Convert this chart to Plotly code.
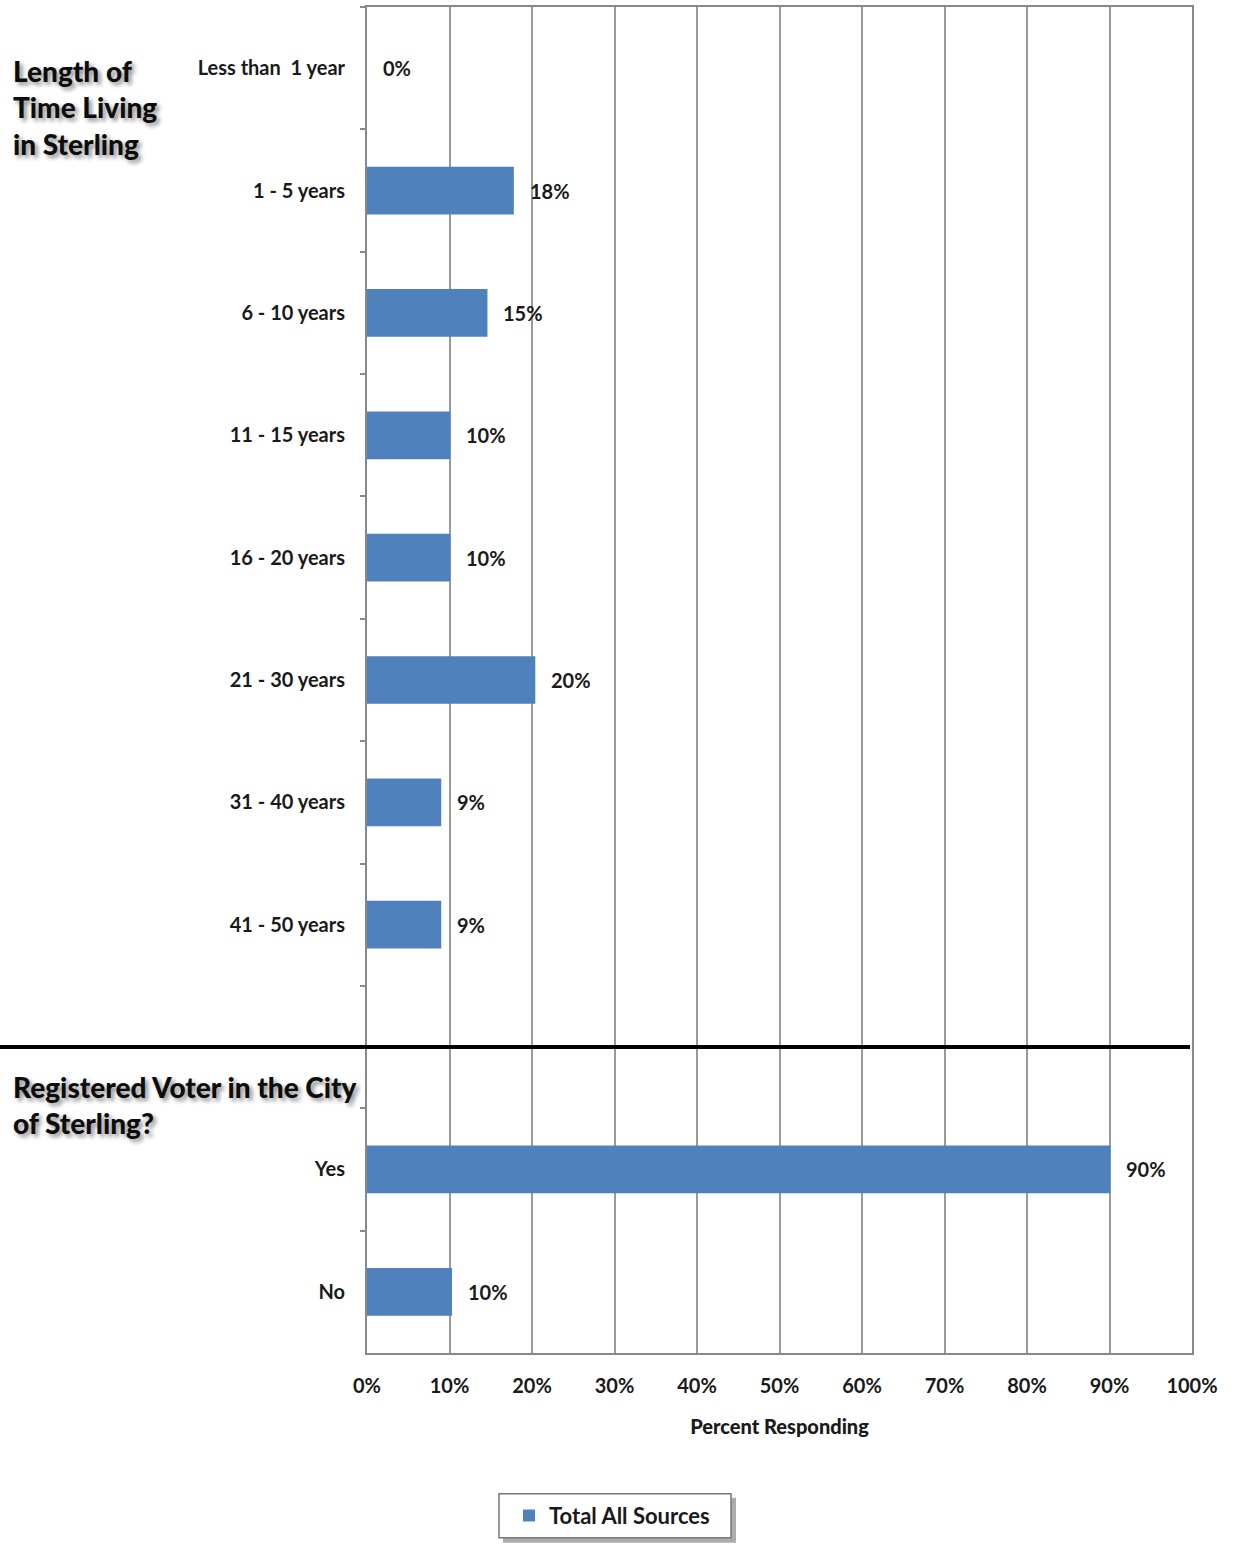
import plotly.graph_objects as go

categories = ["Less than  1 year", "1 - 5 years", "6 - 10 years", "11 - 15 years",
              "16 - 20 years", "21 - 30 years", "31 - 40 years", "41 - 50 years",
              " ", "Yes", "No"]
values = [0.0, 17.8, 14.6, 10.1, 10.1, 20.4, 9.0, 9.0, None, 90.1, 10.3]
value_labels = ["0%", "18%", "15%", "10%", "10%", "20%", "9%", "9%", "", "90%", "10%"]
x_ticks = [0, 10, 20, 30, 40, 50, 60, 70, 80, 90, 100]
x_tick_labels = [f"{t}%" for t in x_ticks]
series_name = "Total All Sources"
section_titles = ["Length of<br>Time Living<br>in Sterling", "Registered Voter in the City<br>of Sterling?"]

FONT = "Lato, 'Open Sans', sans-serif"
BLUE = "#4F81BD"

W, H = 1234, 1545
L, R, T, B = 367, 42, 5, 192
pw, ph = W - L - R, H - T - B

def px_x(p):
    return (p - L) / pw

def px_y(p):
    return 1 - (p - T) / ph

fig = go.Figure()
fig.add_trace(go.Bar(
    x=values, y=categories, orientation="h", name=series_name,
    marker=dict(color=BLUE, line=dict(width=0)), showlegend=True,
))

annotations = []
for c, v, lab in zip(categories, values, value_labels):
    if v is None:
        continue
    annotations.append(dict(x=v, y=c, xref="x", yref="y", text=lab, showarrow=False,
                            xanchor="left", xshift=14,
                            font=dict(family=FONT, size=20, color="#1a1a1a", weight="bold")))

title_font = dict(family=FONT, size=28, color="#0d0d0d", weight=900,
                  shadow="3px 3px 4px rgba(0,0,0,0.45)")
annotations.append(dict(x=px_x(11), y=px_y(50), xref="paper", yref="paper", text=section_titles[0],
                        showarrow=False, xanchor="left", yanchor="top", align="left",
                        font=title_font))
annotations.append(dict(x=px_x(11), y=px_y(1068), xref="paper", yref="paper", text=section_titles[1],
                        showarrow=False, xanchor="left", yanchor="top", align="left",
                        font=title_font))

shapes = [
    # separator between sections
    dict(type="line", xref="paper", yref="y", x0=px_x(0), x1=px_x(1190), y0=" ", y1=" ",
         line=dict(color="black", width=4)),
    # legend shadow
    dict(type="rect", xref="paper", yref="paper", x0=px_x(503), x1=px_x(736),
         y0=px_y(1543), y1=px_y(1498), fillcolor="rgba(90,90,90,0.5)", line=dict(width=0),
         layer="above"),
    # legend box
    dict(type="rect", xref="paper", yref="paper", x0=px_x(499), x1=px_x(731),
         y0=px_y(1538), y1=px_y(1494), fillcolor="white", line=dict(color="#777", width=1.5),
         layer="above"),
]

fig.update_layout(
    width=W, height=H,
    margin=dict(l=L, r=R, t=T, b=B, pad=0),
    paper_bgcolor="white", plot_bgcolor="white",
    font=dict(family=FONT, size=20, color="#1a1a1a"),
    bargap=0.61,
    xaxis=dict(range=[0, 100], tickvals=x_ticks, ticktext=x_tick_labels,
               showgrid=True, gridcolor="#9a9a9a", gridwidth=2,
               showline=True, linecolor="#888", linewidth=2, mirror=True,
               ticks="", ticklabelstandoff=14, zeroline=False,
               tickfont=dict(family=FONT, size=20, weight="bold"),
               title=dict(text="Percent Responding", standoff=24,
                          font=dict(family=FONT, size=20, weight=900))),
    yaxis=dict(type="category", categoryorder="array", categoryarray=categories,
               autorange="reversed", tickson="boundaries", ticks="outside", ticklen=5,
               tickcolor="#888", tickwidth=1.5,
               showgrid=False, showline=True, linecolor="#888", linewidth=2, mirror=True,
               ticklabelstandoff=16,
               tickfont=dict(family=FONT, size=20, weight="bold")),
    legend=dict(x=px_x(612), y=px_y(1516), xanchor="center", yanchor="middle",
                orientation="h", bgcolor="rgba(0,0,0,0)", borderwidth=0,
                itemwidth=30,
                font=dict(family=FONT, size=22, weight="bold")),
    annotations=annotations,
    shapes=shapes,
)

fig.write_html("out.html")
